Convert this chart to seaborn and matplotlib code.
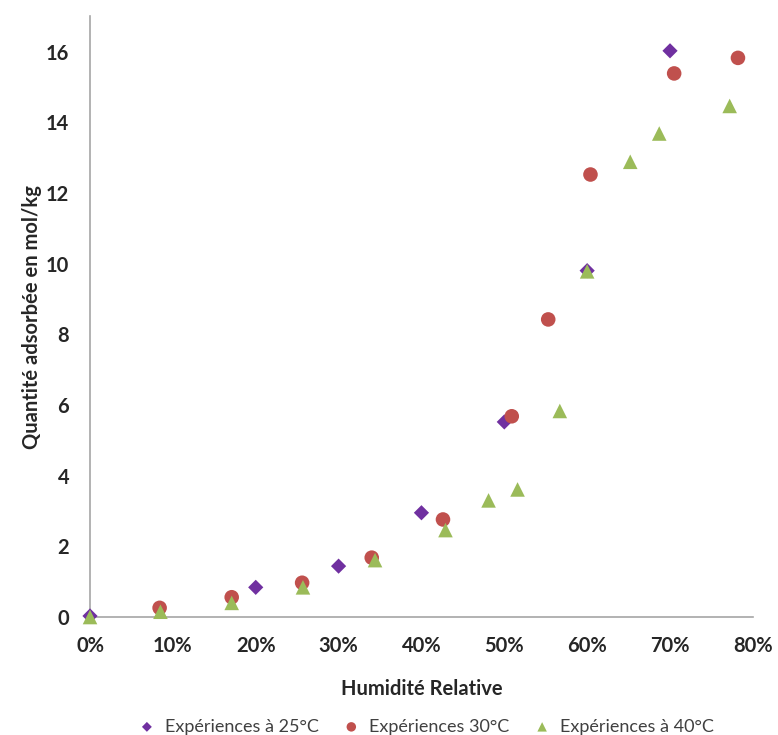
import pandas as pd
import matplotlib
matplotlib.use("Agg")
import matplotlib.pyplot as plt
import seaborn as sns
from matplotlib.ticker import PercentFormatter

# Points
x_25 = [0.0, 0.20, 0.30, 0.40, 0.50, 0.60, 0.70]
y_25 = [0.03, 0.84, 1.44, 2.95, 5.52, 9.80, 16.02]

x_30 = [0.084, 0.171, 0.256, 0.340, 0.426, 0.509, 0.553, 0.604, 0.705, 0.782]
y_30 = [0.26, 0.56, 0.97, 1.68, 2.76, 5.68, 8.42, 12.52, 15.38, 15.82]

x_40 = [0.0, 0.085, 0.171, 0.257, 0.344, 0.429, 0.481, 0.516, 0.567, 0.600, 0.652, 0.687, 0.772]
y_40 = [0.0, 0.15, 0.40, 0.84, 1.61, 2.46, 3.30, 3.61, 5.83, 9.78, 12.88, 13.68, 14.46]

series = ["Expériences à 25°C", "Expériences 30°C", "Expériences à 40°C"]
colors = ["#7030A0", "#C0504D", "#9BBB59"]
markers = ["D", "o", "^"]

df = pd.concat([
    pd.DataFrame({"x": x_25, "y": y_25, "serie": series[0]}),
    pd.DataFrame({"x": x_30, "y": y_30, "serie": series[1]}),
    pd.DataFrame({"x": x_40, "y": y_40, "serie": series[2]}),
])

sns.set_style("white")
plt.rcParams["font.family"] = ["Lato", "DejaVu Sans"]

fig = plt.figure(figsize=(7.78, 7.35), dpi=100)
ax = fig.add_axes([0.1157, 0.1605, 0.852, 0.8175])

sizes = {"Expériences à 25°C": 60, "Expériences 30°C": 110, "Expériences à 40°C": 110}
for s, c, m in zip(series, colors, markers):
    d = df[df["serie"] == s]
    sns.scatterplot(data=d, x="x", y="y", color=c, marker=m, s=sizes[s],
                    edgecolor="none", label=s, ax=ax, zorder=3, clip_on=False)

ax.set_xlim(0, 0.8)
ax.set_ylim(0, 17)
ax.set_xticks([i / 10 for i in range(9)])
ax.set_yticks(range(0, 17, 2))
ax.xaxis.set_major_formatter(PercentFormatter(1.0, decimals=0))

for side in ["top", "right"]:
    ax.spines[side].set_visible(False)
for side in ["left", "bottom"]:
    ax.spines[side].set_color("#a6a6a6")
    ax.spines[side].set_linewidth(1.2)

ax.tick_params(axis="both", direction="out", length=9, width=1.2, color="#a6a6a6",
               labelsize=14.5, pad=6)
ax.tick_params(axis="x", pad=5)
for lab in ax.get_xticklabels() + ax.get_yticklabels():
    lab.set_fontweight("bold")

ax.set_xlabel("Humidité Relative", fontsize=14.5, fontweight="bold", labelpad=16)
ax.set_ylabel("Quantité adsorbée en mol/kg", fontsize=14.5, fontweight="bold", labelpad=3)

leg = ax.legend(loc="upper center", bbox_to_anchor=(0.50, -0.142), ncol=3, frameon=False,
                fontsize=13, handletextpad=0.0, columnspacing=0.8, markerscale=0.65)
for t in leg.get_texts():
    t.set_color("#404040")

fig.savefig("out.png", dpi=100)
